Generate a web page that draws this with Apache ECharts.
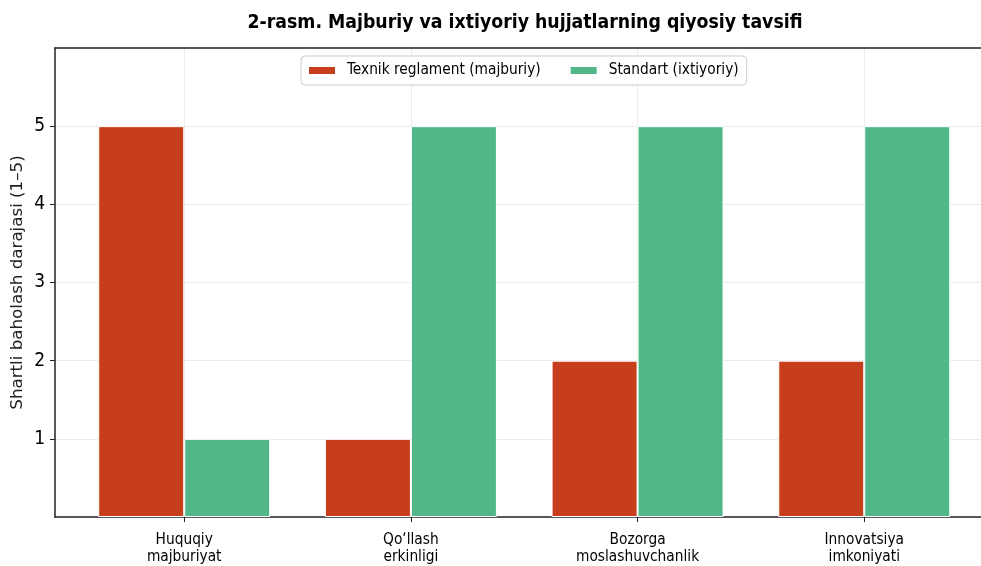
<!DOCTYPE html>
<html><head><meta charset="utf-8">
<script src="https://cdn.jsdelivr.net/npm/echarts@6/dist/echarts.min.js"></script>
<style>html,body{margin:0;padding:0;background:#fff}#c{width:981px;height:566px}</style>
</head><body><div id="c"></div>
<script>
const categories = ['Huquqiy\nmajburiyat', 'Qo\u2018llash\nerkinligi', 'Bozorga\nmoslashuvchanlik', 'Innovatsiya\nimkoniyati'];
const seriesNames = ['Texnik reglament (majburiy)', 'Standart (ixtiyoriy)'];
const reglamentValues = [5, 1, 2, 2];
const standartValues = [1, 5, 5, 5];
const yTicks = [1, 2, 3, 4, 5];
const xPositions = [0, 1, 2, 3];

const condensed = "'DejaVu Sans Condensed', 'Liberation Sans Narrow', 'DejaVu Sans', sans-serif";
const chart = echarts.init(document.getElementById('c'), null, {renderer: 'canvas'});
chart.setOption({
  animation: false,
  backgroundColor: '#fff',
  title: {
    text: '2-rasm. Majburiy va ixtiyoriy hujjatlarning qiyosiy tavsifi',
    left: 520, top: 8, textAlign: 'center',
    textStyle: {fontFamily: condensed, fontWeight: 'bold', fontSize: 19.3, color: '#000'}
  },
  legend: {
    data: seriesNames,
    left: 301, top: 56,
    itemWidth: 28, itemHeight: 9, itemGap: 28,
    icon: 'rect',
    borderColor: '#cccccc', borderWidth: 1, borderRadius: 4,
    padding: [7, 8, 7, 6],
    backgroundColor: '#fff',
    textStyle: {fontFamily: condensed, fontSize: 15.3, color: '#000', padding: [0, 0, 0, 6]}
  },
  grid: {left: 55, right: 0, top: 48, bottom: 49, outerBoundsMode: 'none', containLabel: false},
  xAxis: [{
    type: 'value', min: -0.57, max: 3.515,
    axisLine: {show: true, onZero: false, lineStyle: {color: '#222', width: 1.5}},
    axisTick: {show: true, customValues: xPositions, length: 5, lineStyle: {color: '#222'}},
    axisLabel: {
      customValues: xPositions,
      formatter: v => categories[Math.round(v)] || '',
      fontFamily: condensed, fontSize: 15.3, color: '#000', lineHeight: 17.5, margin: 14
    },
    splitLine: {show: true, lineStyle: {color: '#ebebeb', width: 1}}
  }, {
    type: 'value', min: -0.57, max: 3.515, position: 'top',
    axisLine: {show: true, onZero: false, lineStyle: {color: '#222', width: 1.5}},
    axisTick: {show: false}, axisLabel: {show: false}, splitLine: {show: false}
  }],
  yAxis: {
    type: 'value', min: 0, max: 6, interval: 1,
    name: 'Shartli baholash darajasi (1\u20135)',
    nameLocation: 'middle', nameGap: 29, nameMoveOverlap: false,
    nameTextStyle: {fontFamily: "'DejaVu Sans', sans-serif", fontSize: 16.7, color: '#222'},
    axisLine: {show: true, onZero: false, lineStyle: {color: '#222', width: 1.5}},
    axisTick: {show: true, customValues: yTicks, length: 5, lineStyle: {color: '#222'}},
    axisLabel: {customValues: yTicks, fontFamily: condensed, fontSize: 19, color: '#000', margin: 10},
    splitLine: {show: true, lineStyle: {color: '#ebebeb', width: 1}}
  },
  series: [{
    name: seriesNames[0], type: 'bar', xAxisIndex: 0,
    data: xPositions.map((x, i) => [x, reglamentValues[i]]),
    barWidth: 86, barGap: '0%',
    itemStyle: {color: '#C63E1C', borderColor: '#ffffff', borderWidth: 1}
  }, {
    name: seriesNames[1], type: 'bar', xAxisIndex: 0,
    data: xPositions.map((x, i) => [x, standartValues[i]]),
    barWidth: 86, barGap: '0%',
    itemStyle: {color: '#52B788', borderColor: '#ffffff', borderWidth: 1}
  }]
});
</script></body></html>
